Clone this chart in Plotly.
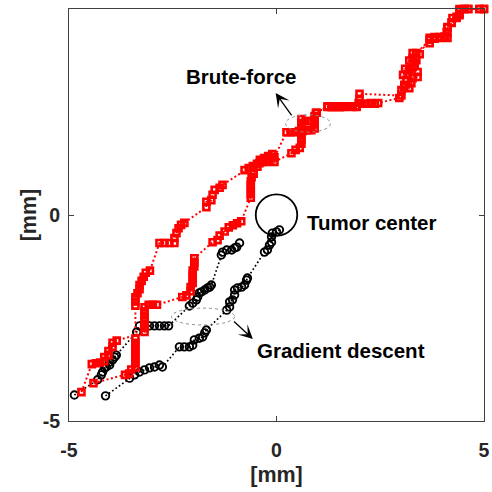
import plotly.graph_objects as go

# ---------------- data (mm) ----------------
# Brute-force path A
bf_a_x = [-4.70,
          -4.45, -4.35, -4.25, -4.15, -4.15, -4.05, -4.05, -3.95, -3.95, -3.85,
          -3.18, -3.18, -3.18, -3.18, -3.18, -3.18, -3.18, -3.08, -2.98, -2.88,
          -2.27, -2.17, -2.07, -2.07, -2.02, -2.02, -2.02, -2.02, -1.98, -1.98, -1.98,
          -1.54, -1.42, -1.37, -1.25, -1.15, -1.05, -0.95, -0.85,
          -0.62, -0.62, -0.62, -0.62, -0.62, -0.60, -0.55,
          -0.46, -0.41, -0.34, -0.24, -0.17, -0.10, -0.05,
          0.36, 0.46, 0.56, 0.60, 0.60, 0.60, 0.60, 0.60, 0.60, 0.60, 0.70, 0.80, 0.92, 0.95,
          1.23, 1.33, 1.43, 1.53, 1.63, 1.73, 1.83, 1.93,
          1.98, 2.00, 2.00,
          3.01, 3.01, 3.08, 3.13, 3.16, 3.20, 3.28, 3.33, 3.28, 3.28, 3.37,
          3.69, 3.69, 3.81, 3.93, 4.05, 4.12,
          4.10, 4.12, 4.22, 4.24, 4.34, 4.41,
          4.41, 4.53, 4.62,
          4.89, 5.00]
bf_a_y = [-4.30,
          -3.62, -3.60, -3.58, -3.55, -3.45, -3.40, -3.30, -3.20, -3.10, -3.05,
          -2.84, -2.74, -2.64, -2.54, -2.44, -2.34, -2.24, -2.18, -2.18, -2.18,
          -1.99, -1.95, -1.85, -1.75, -1.65, -1.55, -1.45, -1.35, -1.25, -1.15, -1.05,
          -0.66, -0.61, -0.50, -0.40, -0.30, -0.25, -0.20, -0.15,
          0.42, 0.52, 0.62, 0.72, 0.82, 0.92, 1.00,
          1.17, 1.26, 1.29, 1.29, 1.33, 1.41, 1.29,
          1.50, 1.58, 1.63, 1.73, 1.83, 1.93, 2.03, 2.13, 2.23, 2.33, 2.28, 2.28, 2.38, 2.48,
          2.62, 2.62, 2.62, 2.62, 2.64, 2.64, 2.64, 2.62,
          2.72, 2.82, 2.94,
          2.90, 3.03, 3.16, 3.28, 3.40, 3.52, 3.59, 3.69, 3.81, 3.93, 3.93,
          4.17, 4.30, 4.32, 4.32, 4.32, 4.30,
          4.44, 4.56, 4.66, 4.78, 4.81, 4.85,
          5.00, 5.00, 5.00,
          5.00, 5.00]

# Brute-force path B
bf_b_x = [-4.41,
          -3.65, -3.55, -3.50, -3.40,
          -3.40, -3.40, -3.40, -3.40, -3.40, -3.40, -3.40,
          -3.40, -3.40, -3.40, -3.35, -3.30, -3.30, -3.25, -3.20, -3.15, -3.05,
          -2.82, -2.70, -2.58, -2.46, -2.46, -2.41, -2.36, -2.30, -2.22,
          -1.69, -1.69, -1.57, -1.54, -1.49, -1.37, -1.30,
          -0.77, -0.67, -0.57, -0.47, -0.40, -0.30, -0.20, -0.10, -0.05,
          0.24, 0.34, 0.44, 0.54, 0.64, 0.74, 0.84, 0.92, 0.92, 0.92, 0.92, 0.97,
          1.23, 1.33, 1.43, 1.53, 1.63, 1.73, 1.83, 1.93,
          2.07, 2.17, 2.27, 2.37, 2.45,
          2.96, 3.08, 3.20, 3.25, 3.28, 3.40, 3.40, 3.33, 3.37, 3.45, 3.10, 3.05, 3.20,
          3.69, 3.81, 3.93, 4.05, 4.12,
          4.12, 4.22, 4.34, 4.41,
          4.41, 4.53, 4.62,
          4.89, 5.00]
bf_b_y = [-4.08,
          -3.88, -3.85, -3.75, -3.70,
          -3.60, -3.50, -3.40, -3.30, -3.20, -3.10, -3.00,
          -2.20, -2.10, -2.00, -1.90, -1.80, -1.70, -1.60, -1.50, -1.40, -1.35,
          -0.68, -0.68, -0.68, -0.68, -0.56, -0.44, -0.32, -0.24, -0.19,
          0.19, 0.32, 0.36, 0.49, 0.61, 0.66, 0.73,
          1.09, 1.14, 1.19, 1.24, 1.34, 1.38, 1.43, 1.48, 1.40,
          2.01, 2.01, 2.01, 2.04, 2.04, 2.06, 2.06, 2.10, 2.20, 2.30, 2.40, 2.48,
          2.64, 2.62, 2.64, 2.62, 2.62, 2.64, 2.62, 2.64,
          2.70, 2.70, 2.72, 2.70, 2.72,
          2.84, 3.10, 3.08, 3.20, 3.32, 3.35, 3.47, 3.62, 3.76, 3.90, 3.55, 3.40, 3.75,
          4.25, 4.28, 4.30, 4.33, 4.42,
          4.55, 4.68, 4.78, 4.88,
          4.97, 5.00, 5.00,
          5.00, 5.00]

# Gradient descent path 1 (reaches the tumor)
gd_1_x = [-4.12,
          -3.54, -3.42, -3.30, -3.18, -3.06, -2.94, -2.82, -2.75,
          -2.34, -2.22, -2.10, -2.02, -1.98, -1.86, -1.78, -1.73, -1.69,
          -1.20, -1.13, -1.13, -1.06, -1.01, -1.01, -0.94, -0.84, -0.77, -0.72, -0.70,
          -0.29, -0.22, -0.17, -0.12, -0.12, -0.10, 0.00, 0.07]
gd_1_y = [-4.39,
          -3.96, -3.88, -3.81, -3.76, -3.71, -3.69, -3.64, -3.69,
          -3.20, -3.20, -3.20, -3.16, -3.03, -2.99, -2.96, -2.86, -2.79,
          -2.31, -2.23, -2.11, -2.06, -1.94, -1.82, -1.77, -1.75, -1.70, -1.58, -1.53,
          -0.90, -0.85, -0.73, -0.66, -0.53, -0.44, -0.41, -0.36]

# Gradient descent path 2
gd_2_x = [-4.87,
          -4.31, -4.22, -4.19, -4.14, -4.10, -4.02, -4.02, -3.95, -3.90, -3.86,
          -3.37, -3.30, -3.18, -3.06, -2.94, -2.82, -2.70, -2.60,
          -2.10, -2.02, -1.93, -1.90, -1.86, -1.81, -1.73, -1.66, -1.61, -1.57,
          -1.33, -1.30, -1.20, -1.08, -1.01, -0.96, -0.89]
gd_2_y = [-4.37,
          -4.00, -3.88, -3.81, -3.71, -3.69, -3.64, -3.57, -3.52, -3.45, -3.40,
          -2.84, -2.69, -2.69, -2.69, -2.69, -2.69, -2.69, -2.69,
          -2.21, -2.14, -2.06, -1.99, -1.89, -1.87, -1.82, -1.77, -1.75, -1.70,
          -0.97, -0.90, -0.85, -0.85, -0.80, -0.78, -0.68]

tumor_center = (0.0, 0.0)
labels = {"bf": "Brute-force", "gd": "Gradient descent", "tumor": "Tumor center"}
tick_vals = [-5, 0, 5]
tick_text = ["-5", "0", "5"]
axis_title = "[mm]"

FONT = "Liberation Sans, Arial, Helvetica, sans-serif"
RED = "#ff0000"
BLACK = "#000000"

fig = go.Figure()

for xs, ys in [(gd_1_x, gd_1_y), (gd_2_x, gd_2_y)]:
    fig.add_trace(go.Scatter(
        x=xs, y=ys, mode="lines+markers", cliponaxis=False,
        line=dict(color=BLACK, width=1.7, dash="1.7px,2.4px"),
        marker=dict(symbol="circle-open", size=7.5, color=BLACK,
                    line=dict(width=1.9, color=BLACK)),
        showlegend=False, hoverinfo="skip"))

for xs, ys in [(bf_a_x, bf_a_y), (bf_b_x, bf_b_y)]:
    fig.add_trace(go.Scatter(
        x=xs, y=ys, mode="lines+markers", cliponaxis=False,
        line=dict(color=RED, width=2, dash="2px,2.5px"),
        marker=dict(symbol="square-open", size=6, color=RED,
                    line=dict(width=2.6, color=RED)),
        showlegend=False, hoverinfo="skip"))

# tumor circle
fig.add_shape(type="circle", xref="x", yref="y",
              x0=tumor_center[0] - 0.5, x1=tumor_center[0] + 0.5,
              y0=tumor_center[1] - 0.5, y1=tumor_center[1] + 0.5,
              line=dict(color=BLACK, width=1.8))
# dotted ellipses
fig.add_shape(type="circle", xref="x", yref="y", x0=0.22, x1=1.30, y0=2.01, y1=2.43,
              line=dict(color="#8c8c8c", width=1, dash="dot"))
fig.add_shape(type="circle", xref="x", yref="y", x0=-2.53, x1=-1.01, y0=-2.67, y1=-2.26,
              line=dict(color="#8c8c8c", width=1, dash="dot"))

# arrows
fig.add_annotation(x=-0.02, y=2.96, ax=0.39, ay=2.38, xref="x", yref="y",
                   axref="x", ayref="y", text="", showarrow=True,
                   arrowhead=3, arrowsize=1.8, arrowwidth=1.3, arrowcolor=BLACK)
fig.add_annotation(x=-0.57, y=-3.01, ax=-1.06, ay=-2.55, xref="x", yref="y",
                   axref="x", ayref="y", text="", showarrow=True,
                   arrowhead=3, arrowsize=1.8, arrowwidth=1.3, arrowcolor=BLACK)

# text labels
txtfont = dict(family=FONT, size=20.5, color=BLACK)
fig.add_annotation(x=-2.24, y=3.35, xref="x", yref="y", text="<b>" + labels["bf"] + "</b>",
                   showarrow=False, xanchor="left", yanchor="middle", font=txtfont)
fig.add_annotation(x=0.675, y=-0.17, xref="x", yref="y", text="<b>" + labels["tumor"] + "</b>",
                   showarrow=False, xanchor="left", yanchor="middle", font=txtfont)
fig.add_annotation(x=-0.53, y=-3.30, xref="x", yref="y", text="<b>" + labels["gd"] + "</b>",
                   showarrow=False, xanchor="left", yanchor="middle", font=txtfont)

axis_common = dict(
    range=[-5, 5], tickvals=tick_vals, ticktext=["<b>%s</b>" % t for t in tick_text],
    ticks="inside", ticklen=5, tickwidth=1, tickcolor="#404040",
    showline=True, linecolor="#404040", linewidth=1, mirror="ticks",
    showgrid=False, zeroline=False, automargin=False,
    tickfont=dict(family=FONT, size=19.5, color="#262626"),
)
fig.update_layout(
    width=492, height=492,
    margin=dict(l=69, r=8, t=9, b=71, autoexpand=False),
    paper_bgcolor="white", plot_bgcolor="white",
    xaxis=dict(**axis_common, ticklabelstandoff=12,
               title=dict(text="<b>" + axis_title + "</b>", standoff=6,
                          font=dict(family=FONT, size=21.5, color="#262626"))),
    yaxis=dict(**axis_common, ticklabelstandoff=4,
               title=dict(text="<b>" + axis_title + "</b>", standoff=0,
                          font=dict(family=FONT, size=21.5, color="#262626"))),
)

fig.write_html("out.html")
